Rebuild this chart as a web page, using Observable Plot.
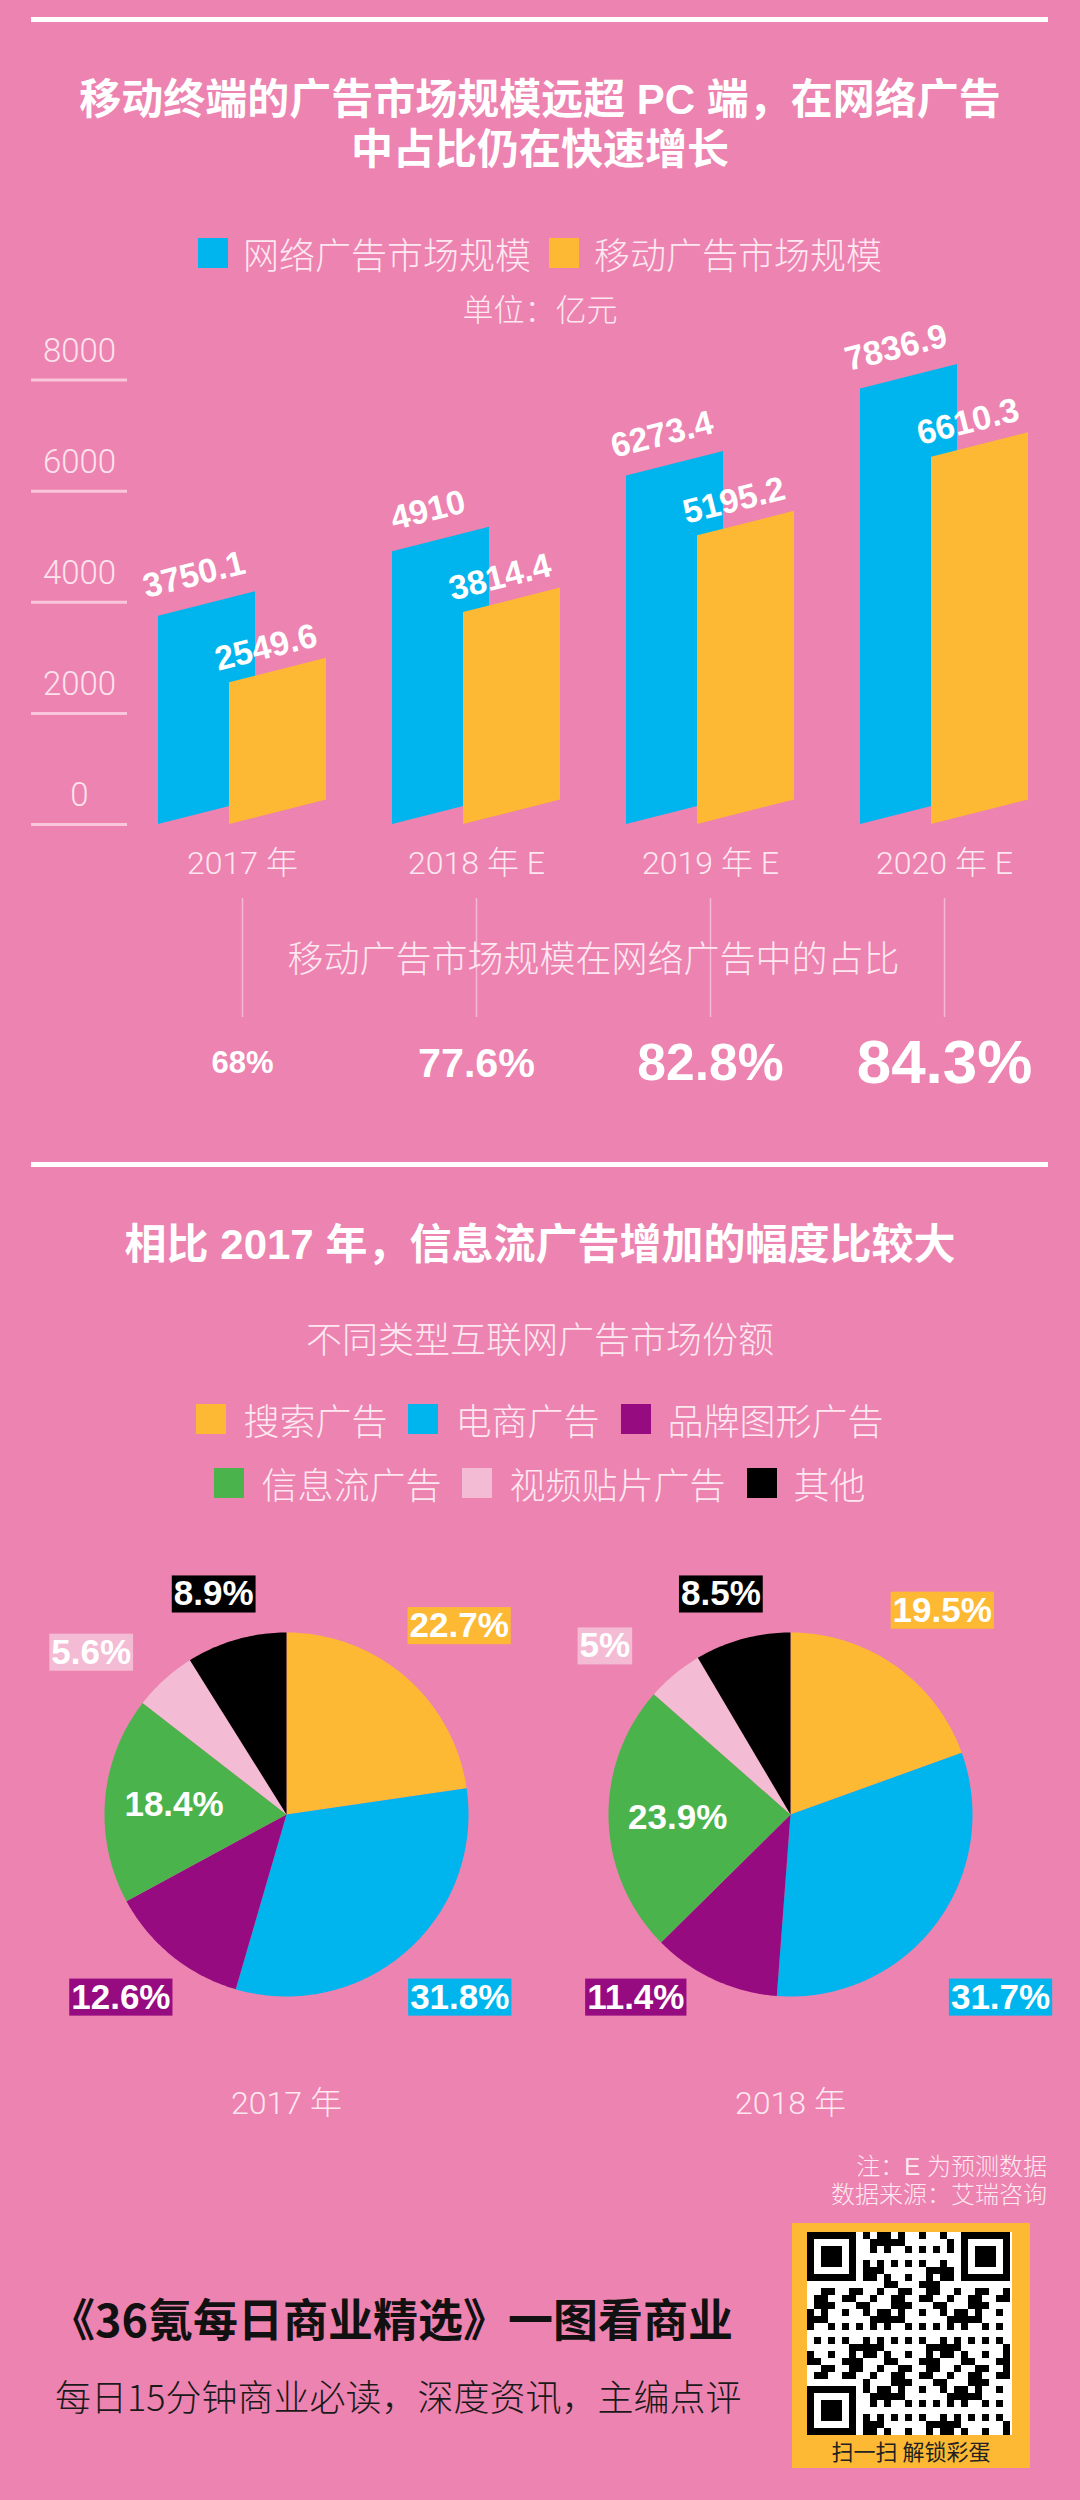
<!DOCTYPE html>
<html lang="zh-CN">
<head>
<meta charset="utf-8">
<script src="https://cdn.jsdelivr.net/npm/d3@7"></script>
<script src="https://cdn.jsdelivr.net/npm/@observablehq/plot@0.6"></script>
<style>
  html, body { margin: 0; padding: 0; background: #ED83B0; }
  #page { position: relative; width: 1080px; height: 2500px; background: #ED83B0; overflow: hidden;
          font-family: "Noto Sans CJK SC", "Noto Sans", sans-serif; color: #fff; }
  .rule { position: absolute; left: 31px; width: 1017px; height: 5px; background: #fff; }
  .center { position: absolute; left: 0; width: 1080px; text-align: center; white-space: nowrap; line-height: 1; }
  .title { font-family: "Liberation Sans", Arial, "Noto Sans CJK SC", sans-serif; font-weight: 700; font-size: 42px; color: #fff; }
  .sub { font-weight: 300; color: #FDE8F1; }
  .legend { position: absolute; left: 0; width: 1080px; display: flex; justify-content: center; align-items: center;
            font-size: 36px; font-weight: 300; color: #FDE8F1; line-height: 44px; white-space: nowrap; }
  .legend .item { display: flex; align-items: center; }
  .legend .sw { width: 30px; height: 30px; }
  .plot { position: absolute; left: 0; }
  .note { position: absolute; right: 33px; text-align: right; font-size: 24px; line-height: 1; font-weight: 300;
          font-family: "Liberation Sans", Arial, "Noto Sans CJK SC", sans-serif; color: #FDE8F1; white-space: nowrap; }
  .brand { position: absolute; left: 50px; font-size: 45px; line-height: 1; font-weight: 700; color: #111; white-space: nowrap; }
  .slogan { position: absolute; left: 55px; font-size: 36px; line-height: 1; font-weight: 300; color: #1a1a1a; white-space: nowrap; }
  #qr { position: absolute; left: 792px; top: 2223px; width: 238px; height: 245px; background: #FDB933; }
  #qr .code { position: absolute; left: 15px; top: 9px; width: 205px; height: 203px; background: #fff; }
  #qr .cap { position: absolute; left: 0; top: 216px; width: 238px; text-align: center; font-size: 22px; line-height: 1; color: #222; }
</style>
</head>
<body>
<div id="page">
  <div class="rule" style="top:17px"></div>
  <div class="center title" style="top:79px">移动终端的广告市场规模远超 PC 端，在网络广告</div>
  <div class="center title" style="top:129px">中占比仍在快速增长</div>
  <div class="legend" id="legend1" style="top:231px"></div>
  <div class="center sub" style="top:292px;font-size:31px">单位：亿元</div>
  <div class="plot" id="axisPlot" style="top:330px"></div>
  <div class="plot" id="barPlot" style="top:330px"></div>
  <div class="plot" id="sharePlot" style="top:890px"></div>
  <div class="rule" style="top:1162px"></div>
  <div class="center title" style="top:1224px">相比 2017 年，信息流广告增加的幅度比较大</div>
  <div class="center sub" style="top:1319px;font-size:36px">不同类型互联网广告市场份额</div>
  <div class="legend" id="legend2a" style="top:1397px"></div>
  <div class="legend" id="legend2b" style="top:1461px"></div>
  <div class="plot" id="piePlot" style="top:1540px"></div>
  <div class="note" style="top:2155px">注：E 为预测数据</div>
  <div class="note" style="top:2183px">数据来源：艾瑞咨询</div>
  <div class="brand" style="top:2295px">《36氪每日商业精选》一图看商业</div>
  <div class="slogan" style="top:2377px">每日15分钟商业必读，深度资讯，主编点评</div>
  <div id="qr"><div class="code" id="qrcode"></div><div class="cap">扫一扫 解锁彩蛋</div></div>
</div>
<script>
// ---------------- data ----------------
const years = ["2017 年", "2018 年 E", "2019 年 E", "2020 年 E"];
const seriesNames = ["网络广告市场规模", "移动广告市场规模"];
const seriesColors = ["#00B5EE", "#FDB933"];
const onlineAd = [3750.1, 4910, 6273.4, 7836.9];
const mobileAd = [2549.6, 3814.4, 5195.2, 6610.3];
const yTicks = [0, 2000, 4000, 6000, 8000];
const shareTitle = "移动广告市场规模在网络广告中的占比";
const mobileShare = [68, 77.6, 82.8, 84.3];

const pieYears = ["2017 年", "2018 年"];
const adTypes = ["搜索广告", "电商广告", "品牌图形广告", "信息流广告", "视频贴片广告", "其他"];
const typeColors = ["#FDB933", "#00B5EE", "#960B80", "#4BB34B", "#F4BBD4", "#000000"];
const share2017 = [22.7, 31.8, 12.6, 18.4, 5.6, 8.9];
const share2018 = [19.5, 31.7, 11.4, 23.9, 5, 8.5];

// ---------------- layout ----------------
const W = 1080;
const NUM_FONT = '"Liberation Sans", Arial, sans-serif';
const LIGHT_FONT = 'Roboto, "Noto Sans CJK SC", sans-serif';
const CJK_FONT = '"Noto Sans CJK SC", "Noto Sans", sans-serif';
const baseStyle = {background: "transparent", overflow: "visible", color: "#fff"};

// legends
function legend(el, names, colors, gapIn, gapOut) {
  names.forEach((n, i) => {
    const it = document.createElement("div");
    it.className = "item";
    it.style.marginLeft = (i ? gapOut : 0) + "px";
    const sw = document.createElement("div");
    sw.className = "sw"; sw.style.background = colors[i]; sw.style.marginRight = gapIn + "px";
    const tx = document.createElement("span"); tx.textContent = n;
    it.append(sw, tx); el.append(it);
  });
}
legend(document.getElementById("legend1"), seriesNames, seriesColors, 15, 18);
legend(document.getElementById("legend2a"), adTypes.slice(0, 3), typeColors.slice(0, 3), 17, 21);
legend(document.getElementById("legend2b"), adTypes.slice(3), typeColors.slice(3), 17, 21);

// ---------------- bar chart ----------------
const BAR_H = 560;                       // svg height
const G0 = 242, STEP = 234;              // px: first group centre, group spacing
const M_TOP = 49.5, M_BOTTOM = 66;       // px
const pxPerUnit = (BAR_H - M_TOP - M_BOTTOM) / 8000;
const skew = 24.5 / pxPerUnit;           // bar slant, in value units
const barW = 97 / STEP, shift = 71 / STEP, lead = 84 / STEP;
const xDom = [-G0 / STEP, (W - G0) / STEP];

function barPolys(values, k) {
  return values.flatMap((v, i) => {
    const x0 = i - lead + k * shift;
    return [
      {x: x0, y1: 0, y2: v, id: i, series: seriesNames[k]},
      {x: x0 + barW, y1: skew, y2: v + skew, id: i, series: seriesNames[k]}
    ];
  });
}
function barLabels(values, k) {
  return values.map((v, i) => ({x: i - lead + k * shift + barW / 2, y: v + skew / 2, text: String(v)}));
}
const labelStyle = {fill: "#fff", fontSize: 34, fontWeight: 700, fontFamily: NUM_FONT, rotate: -14,
                    lineAnchor: "middle", textAnchor: "middle", letterSpacing: "1.5px"};

const barPlot = Plot.plot({
  width: W, height: BAR_H,
  marginLeft: 0, marginRight: 0, marginTop: M_TOP, marginBottom: M_BOTTOM,
  style: baseStyle,
  x: {domain: xDom, axis: null},
  y: {domain: [0, 8000], axis: null},
  color: {domain: seriesNames, range: seriesColors},
  marks: [
    Plot.areaY(barPolys(onlineAd, 0), {x: "x", y1: "y1", y2: "y2", z: "id", fill: "series", curve: "linear"}),
    Plot.areaY(barPolys(mobileAd, 1), {x: "x", y1: "y1", y2: "y2", z: "id", fill: "series", curve: "linear"}),
    Plot.text(barLabels(onlineAd, 0), {x: "x", y: "y", text: "text", dx: -13, dy: -29, ...labelStyle}),
    Plot.text(barLabels(mobileAd, 1), {x: "x", y: "y", text: "text", dx: -12, dy: -23, ...labelStyle}),
    Plot.text(years, {x: (d, i) => i, text: d => d, frameAnchor: "bottom", dy: 39, lineAnchor: "middle",
                      fontSize: 32, fontWeight: 300, fontFamily: LIGHT_FONT, fill: "#FDE8F1"})
  ]
});
document.getElementById("barPlot").append(barPlot);

const axisPlot = Plot.plot({
  width: 140, height: BAR_H,
  marginLeft: 31, marginRight: 13, marginTop: M_TOP, marginBottom: M_BOTTOM,
  style: baseStyle,
  x: {axis: null},
  y: {domain: [0, 8000], axis: null},
  marks: [
    Plot.ruleY(yTicks, {stroke: "#F9C6DC", strokeWidth: 3}),
    Plot.text(yTicks, {y: d => d, text: d => String(d), frameAnchor: "middle", dy: -29, lineAnchor: "middle",
                       fontSize: 33, fontWeight: 300, fontFamily: LIGHT_FONT, fill: "#FCE3EE"})
  ]
});
document.getElementById("axisPlot").append(axisPlot);

// ---------------- share row ----------------
const sortedShare = d3.sort(mobileShare);
const sharePlot = Plot.plot({
  width: W, height: 220,
  marginLeft: 0, marginRight: 0, marginTop: 8, marginBottom: 93,
  style: baseStyle,
  x: {domain: xDom, axis: null},
  y: {axis: null},
  marks: [
    Plot.ruleX(mobileShare, {x: (d, i) => i, stroke: "#F7B8D3", strokeWidth: 1.5}),
    Plot.text([shareTitle], {x: () => (years.length - 1) / 2, text: d => d, frameAnchor: "middle", dy: 2,
                             fontSize: 36, fontWeight: 300, fontFamily: CJK_FONT, fill: "#FDE8F1"}),
    Plot.text(mobileShare, {x: (d, i) => i, text: d => d + "%", frameAnchor: "bottom", dy: 46, lineAnchor: "middle",
                            fontSize: d => 31 + 10.3 * sortedShare.indexOf(d),
                            fontWeight: 700, fontFamily: NUM_FONT, fill: "#fff"})
  ]
});
document.getElementById("sharePlot").append(sharePlot);

// ---------------- pies ----------------
const R = 182;                          // px radius
const PIE_LEFT = 286, PIE_GAP = 504;    // px: first pie centre, distance between pies
const PIE_H = 590, PIE_CY = 274;        // svg height, centre y inside svg
const pieShares = [share2017, share2018];
const slices = [], outLabels = [], inLabels = [], yearLabels = [];
pieShares.forEach((vals, p) => {
  const cx = p * PIE_GAP / R;
  yearLabels.push({x: cx, text: pieYears[p]});
  const arcs = d3.pie().sort(null).value(d => d)(vals);
  arcs.forEach((a, k) => {
    const id = p + "-" + k;
    const n = Math.max(2, Math.ceil((a.endAngle - a.startAngle) / (Math.PI / 180)));
    slices.push({x: cx, y: 0, id, type: adTypes[k]});
    for (let s = 0; s <= n; s++) {
      const t = a.startAngle + (a.endAngle - a.startAngle) * s / n;
      slices.push({x: cx + Math.sin(t), y: Math.cos(t), id, type: adTypes[k]});
    }
    const mid = (a.startAngle + a.endAngle) / 2;
    const lab = {type: adTypes[k], text: vals[k] + "%"};
    if (adTypes[k] === "信息流广告") {
      inLabels.push({...lab, x: cx + 0.62 * Math.sin(mid), y: 0.62 * Math.cos(mid)});
    } else {
      const c = Math.cos(mid), s = Math.sin(mid);
      let lx = 1.45 * s, ly;
      if (c < 0) {                       // lower half: labels share one row below the pie
        ly = -1.005;
        lx = Math.sign(s) * Math.max(0.85, Math.abs(lx));
      } else {
        ly = Math.min(1.21, 1.37 * c);
        if (Math.abs(s) > 0.6 && s < 0) { lx = 1.6 * s; ly = 1.2 * c; }   // small upper-left slice
      }
      outLabels.push({...lab, x: cx + lx, y: ly});
    }
  });
});
const PIE_FS = 35;
const piePlot = Plot.plot({
  width: W, height: PIE_H,
  marginLeft: 0, marginRight: 0, marginTop: 0, marginBottom: 0,
  style: baseStyle,
  x: {domain: [-PIE_LEFT / R, (W - PIE_LEFT) / R], axis: null},
  y: {domain: [-(PIE_H - PIE_CY) / R, PIE_CY / R], axis: null},
  color: {domain: adTypes, range: typeColors},
  marks: [
    Plot.line(slices, {x: "x", y: "y", z: "id", fill: "type", stroke: "none", curve: "linear"}),
    Plot.text(outLabels, {x: "x", y: "y", text: "text", stroke: "type", strokeWidth: 0, fill: "#fff",
                          fontSize: PIE_FS, fontWeight: 700, fontFamily: NUM_FONT, ariaDescription: "boxed"}),
    Plot.text(inLabels, {x: "x", y: "y", text: "text", fill: "#fff",
                         fontSize: PIE_FS, fontWeight: 700, fontFamily: NUM_FONT}),
    Plot.text(yearLabels, {x: "x", text: "text", frameAnchor: "bottom", dy: -27, lineAnchor: "middle",
                           fontSize: 32, fontWeight: 300, fontFamily: LIGHT_FONT, fill: "#FDE8F1"})
  ]
});
document.getElementById("piePlot").append(piePlot);

// coloured boxes behind the outside pie labels
piePlot.querySelectorAll('g[aria-description="boxed"] text').forEach(t => {
  const bb = t.getBBox();
  const h = 0.716 * PIE_FS + 12;
  const cy = bb.y + bb.height / 2 + 1;
  const r = document.createElementNS("http://www.w3.org/2000/svg", "rect");
  r.setAttribute("x", bb.x - 2);
  r.setAttribute("width", bb.width + 4);
  r.setAttribute("y", cy - h / 2);
  r.setAttribute("height", h);
  if (t.getAttribute("transform")) r.setAttribute("transform", t.getAttribute("transform"));
  r.setAttribute("fill", t.getAttribute("stroke"));
  t.parentNode.insertBefore(r, t);
  t.setAttribute("stroke", "none");
});

// ---------------- QR-like decoration ----------------
(function () {
  const N = 29, m = 7;
  const svg = d3.select("#qrcode").append("svg").attr("width", N * m).attr("height", N * m)
    .style("display", "block");
  const finder = (fx, fy) => (i, j) => {
    const a = i - fx, b = j - fy;
    if (a < 0 || a > 6 || b < 0 || b > 6) return null;
    const e = Math.max(Math.abs(a - 3), Math.abs(b - 3));
    return e === 3 || e <= 1;
  };
  const fs = [finder(0, 0), finder(N - 7, 0), finder(0, N - 7)];
  for (let i = 0; i < N; i++) for (let j = 0; j < N; j++) {
    let on = null;
    for (const f of fs) { const v = f(i, j); if (v !== null) on = v; }
    const nearFinder = (i < 8 && j < 8) || (i > N - 9 && j < 8) || (i < 8 && j > N - 9);
    if (on === null) on = nearFinder ? false : (((i * 7 + j * 13 + i * j * 5) % 11) < 5);
    if (on) svg.append("rect").attr("x", i * m).attr("y", j * m).attr("width", m).attr("height", m).attr("fill", "#000");
  }
})();
</script>
</body>
</html>
